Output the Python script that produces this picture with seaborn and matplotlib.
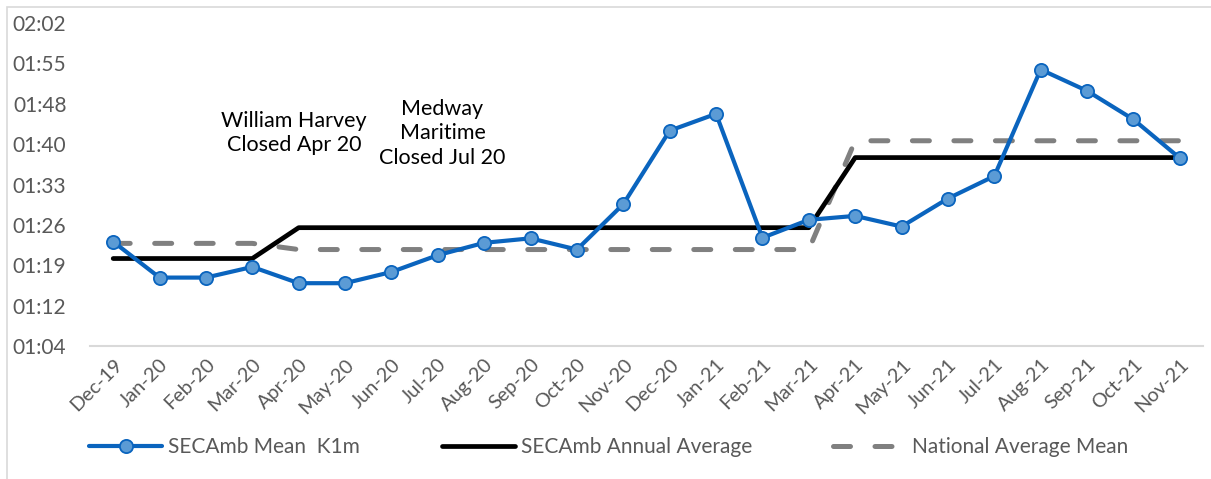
import numpy as np
import pandas as pd
import matplotlib
matplotlib.use("Agg")
import matplotlib.pyplot as plt
import matplotlib.ticker as mticker
from matplotlib.patches import Rectangle
import seaborn as sns

# Monthly categories
months = ["Dec-19", "Jan-20", "Feb-20", "Mar-20", "Apr-20", "May-20", "Jun-20",
          "Jul-20", "Aug-20", "Sep-20", "Oct-20", "Nov-20", "Dec-20", "Jan-21",
          "Feb-21", "Mar-21", "Apr-21", "May-21", "Jun-21", "Jul-21", "Aug-21",
          "Sep-21", "Oct-21", "Nov-21"]

# Response times in seconds
secamb_mean_k1m = [83, 76.6, 76.6, 78.5, 75.6, 75.6, 77.6, 80.6, 82.8, 83.6, 81.6, 89.7,
                   102.8, 105.8, 83.7, 86.9, 87.6, 85.7, 90.7, 94.7, 113.7, 109.9, 104.8, 97.9]
secamb_annual_avg = [80, 80, 80, 80, 85.5, 85.5, 85.5, 85.5, 85.5, 85.5, 85.5, 85.5,
                     85.5, 85.5, 85.5, 85.5, 98, 98, 98, 98, 98, 98, 98, 98]
national_avg_mean = [82.7, 82.7, 82.7, 82.7, 81.6, 81.6, 81.6, 81.6, 81.6, 81.6, 81.6, 81.6,
                     81.6, 81.6, 81.6, 81.6, 101, 101, 101, 101, 101, 101, 101, 101]

series_labels = ["SECAmb Mean  K1m", "SECAmb Annual Average", "National Average Mean"]
y_ticks = [64.4, 71.6, 78.8, 86.0, 93.2, 100.4, 107.6, 114.8, 122.0]

df = pd.DataFrame({
    "pos": np.arange(len(months)),
    "month": months,
    "k1m": secamb_mean_k1m,
    "annual": secamb_annual_avg,
    "national": national_avg_mean,
})

sns.set_theme(style="white")
plt.rcParams["font.family"] = ["Lato", "DejaVu Sans"]

W, H = 1211, 479
fig = plt.figure(figsize=(W / 100, H / 100), dpi=100)
fig.patch.set_facecolor("white")
ax = fig.add_axes([90 / W, 1 - 346 / H, (1203 - 90) / W, (346 - 23) / H])

# chart-area border
fig.patches.append(Rectangle((7 / W, -0.1), 1.2, 1 - 7 / H + 0.1, transform=fig.transFigure,
                             fill=False, edgecolor="#d9d9d9", linewidth=1.2))

grey = "#808080"
blue = "#0a64be"

sns.lineplot(data=df, x="pos", y="national", ax=ax, color=grey, linewidth=3.6,
             linestyle=(0, (3.4, 4.9)), dash_capstyle="round", label=series_labels[2],
             zorder=2)
sns.lineplot(data=df, x="pos", y="annual", ax=ax, color="black", linewidth=3.4,
             label=series_labels[1], zorder=3)
sns.lineplot(data=df, x="pos", y="k1m", ax=ax, color=blue, linewidth=3.0,
             marker="o", markersize=9.5, markerfacecolor="#5b9bd5",
             markeredgecolor=blue, markeredgewidth=1.3, label=series_labels[0], zorder=4)

ax.set_xlim(-0.5, len(months) - 0.5)
ax.set_ylim(y_ticks[0], y_ticks[-1])

ax.set_yticks(y_ticks)
def mmss(v, _):
    s = int(round(v))
    return f"{s // 60:02d}:{s % 60:02d}"
ax.yaxis.set_major_formatter(mticker.FuncFormatter(mmss))

ax.set_xticks(df["pos"])
ax.set_xticklabels(months, rotation=45, ha="right", rotation_mode="anchor")

ax.tick_params(axis="y", length=0, pad=17, labelsize=15, labelcolor="#595959")
ax.tick_params(axis="x", length=0, pad=7, labelsize=14.3, labelcolor="#595959")
ax.set_xlabel("")
ax.set_ylabel("")
for side in ["left", "right", "top"]:
    ax.spines[side].set_visible(False)
ax.spines["bottom"].set_color("#d9d9d9")
ax.spines["bottom"].set_linewidth(1.5)
ax.grid(False)

ax.text(3.9, 102.4, "William Harvey\nClosed Apr 20", ha="center", va="center",
        fontsize=15.5, color="black", linespacing=1.3)
ax.text(7.1, 102.3, "Medway\nMaritime\nClosed Jul 20", ha="center", va="center",
        fontsize=15.5, color="black", linespacing=1.3)

handles, labels = ax.get_legend_handles_labels()
order = [labels.index(l) for l in series_labels]
ax.get_legend().remove()
leg = fig.legend([handles[i] for i in order], [labels[i] for i in order],
                 loc="center", bbox_to_anchor=(609 / W, 1 - 447 / H), ncol=3,
                 frameon=False, fontsize=15, handlelength=3.5, handletextpad=0.3,
                 columnspacing=3.9, labelcolor="#595959")

fig.savefig("out.png", dpi=100, facecolor="white")
